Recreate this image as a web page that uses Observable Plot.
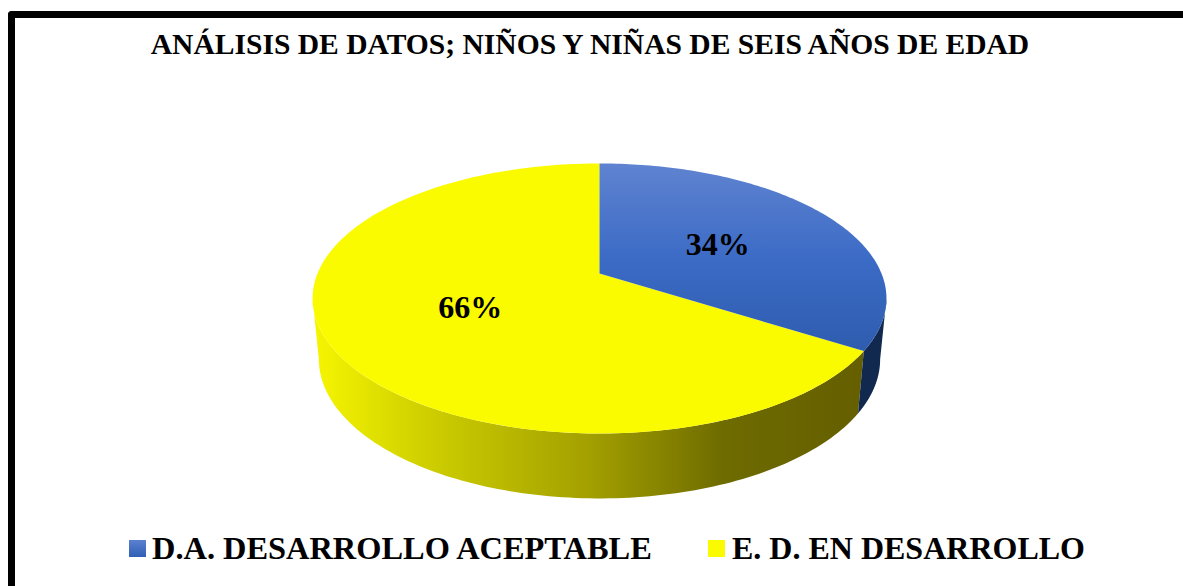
<!DOCTYPE html>
<html><head><meta charset="utf-8">
<script src="https://cdn.jsdelivr.net/npm/d3@7"></script>
<script src="https://cdn.jsdelivr.net/npm/@observablehq/plot@0.6"></script>
<style>
html,body{margin:0;padding:0;background:#fff;overflow:hidden}
#page{position:relative;width:1183px;height:586px;font-family:"Liberation Serif",serif;font-weight:bold;color:#000}
#frame{position:absolute;left:8px;top:11px;width:1180px;height:580px;box-sizing:border-box;border-left:7px solid #000;border-top:7px solid #000;border-top-left-radius:4px}
#title{position:absolute;left:0;top:0;width:1180px;height:90px;line-height:89px;text-align:center;font-size:29.55px;white-space:nowrap}
#chart{position:absolute;left:0;top:90px}
#chart svg{display:block}
.leg{position:absolute;top:521px;line-height:54px;white-space:nowrap}
.sw{position:absolute;top:540px;width:17px;height:17px}
</style></head><body>
<div id="page">
<div id="frame"></div>
<div id="title"></div>
<div id="chart"></div>
<div class="sw" style="left:129px;background:linear-gradient(#5b80cf,#2f5fb5)"></div>
<div class="leg" id="l0" style="left:152px;font-size:32.4px"></div>
<div class="sw" style="left:708px;background:#fafa00"></div>
<div class="leg" id="l1" style="left:732px;font-size:32px"></div>
</div>
<script>
const titleText = "ANÁLISIS DE DATOS; NIÑOS Y NIÑAS DE SEIS AÑOS DE EDAD";
const categories = ["D.A. DESARROLLO ACEPTABLE", "E. D. EN DESARROLLO"];
const percents = [34, 66];
const labels = ["34%", "66%"];

document.getElementById("title").textContent = titleText;
document.getElementById("l0").textContent = categories[0];
document.getElementById("l1").textContent = categories[1];

// pie geometry, in disk units: perspective tilt and the drop of the base
const K = 0.185, BASE_SCALE = 0.978, BASE_DROP = 0.46, BASE_Y = 1.031;
const TOP = 90; // svg offset on the page
const total = d3.sum(percents);
const angles = [];
percents.reduce((a, p) => { angles.push([a, a + p / total * 360]); return a + p / total * 360; }, 0);
const rad = d => d * Math.PI / 180;
const proj = (deg, r = 1) => {
  const u = r * Math.sin(rad(deg)), v = r * Math.cos(rad(deg)), w = 1 + K * v;
  return {x: u / w, y: v / w};
};
const base = deg => {
  const p = proj(deg);
  return {x: p.x * BASE_SCALE, y: p.y * BASE_Y - BASE_DROP};
};
const steps = (a, b) => d3.range(0, 121).map(i => a + (b - a) * i / 120);
const topSlice = ([a, b]) => [{x: 0, y: 0}, ...steps(a, b).map(d => proj(d))];
const sideSlice = (a, b) => [...steps(a, b).map(d => proj(d)), ...steps(a, b).reverse().map(base)];

// the rim's left and right silhouette angles
const right = Math.acos(-K) * 180 / Math.PI, left = 360 - right;
const split = angles[0][1];
const sideBlue = sideSlice(right, split);
const sideYellow = sideSlice(split, left);

const labelPts = angles.map(([a, b], i) => ({...proj((a + b) / 2, 0.5), t: labels[i]}));

const plot = Plot.plot({
  width: 1183, height: 430, margin: 0,
  x: {domain: [-1, 1], range: [317, 881], axis: null},
  y: {domain: [-1, 1], range: [273 + 130.4 - TOP, 273 - 130.4 - TOP], axis: null},
  marks: [
    Plot.line(sideYellow, {x: "x", y: "y", fill: "url(#sideY)", stroke: "none"}),
    Plot.line(sideBlue, {x: "x", y: "y", fill: "#12294f", stroke: "none"}),
    Plot.line(topSlice(angles[1]), {x: "x", y: "y", fill: "#fbfb00", stroke: "none"}),
    Plot.line(topSlice(angles[0]), {x: "x", y: "y", fill: "url(#topB)", stroke: "none"}),
    Plot.text(labelPts, {x: "x", y: "y", text: "t", dy: 1, fontSize: 32, fontWeight: "bold", fontFamily: "Liberation Serif", fill: "#000"})
  ]
});
const defs = d3.select(plot).append("defs");
const grad = (id, attrs, stops) => {
  const g = defs.append("linearGradient").attr("id", id).attr("gradientUnits", "userSpaceOnUse");
  Object.entries(attrs).forEach(([k, v]) => g.attr(k, v));
  stops.forEach(([o, c]) => g.append("stop").attr("offset", o).attr("stop-color", c));
};
grad("sideY", {x1: 315, y1: 0, x2: 860, y2: 0},
  [[0, "#f5f500"], [0.2, "#cfcf00"], [0.5, "#a3a000"], [0.75, "#6e6b00"], [1, "#655f00"]]);
grad("topB", {x1: 0, y1: 163 - TOP, x2: 0, y2: 352 - TOP},
  [[0, "#5f83d0"], [0.5, "#3c6bc6"], [1, "#2e5cae"]]);
document.getElementById("chart").appendChild(plot);
</script>
</body></html>
